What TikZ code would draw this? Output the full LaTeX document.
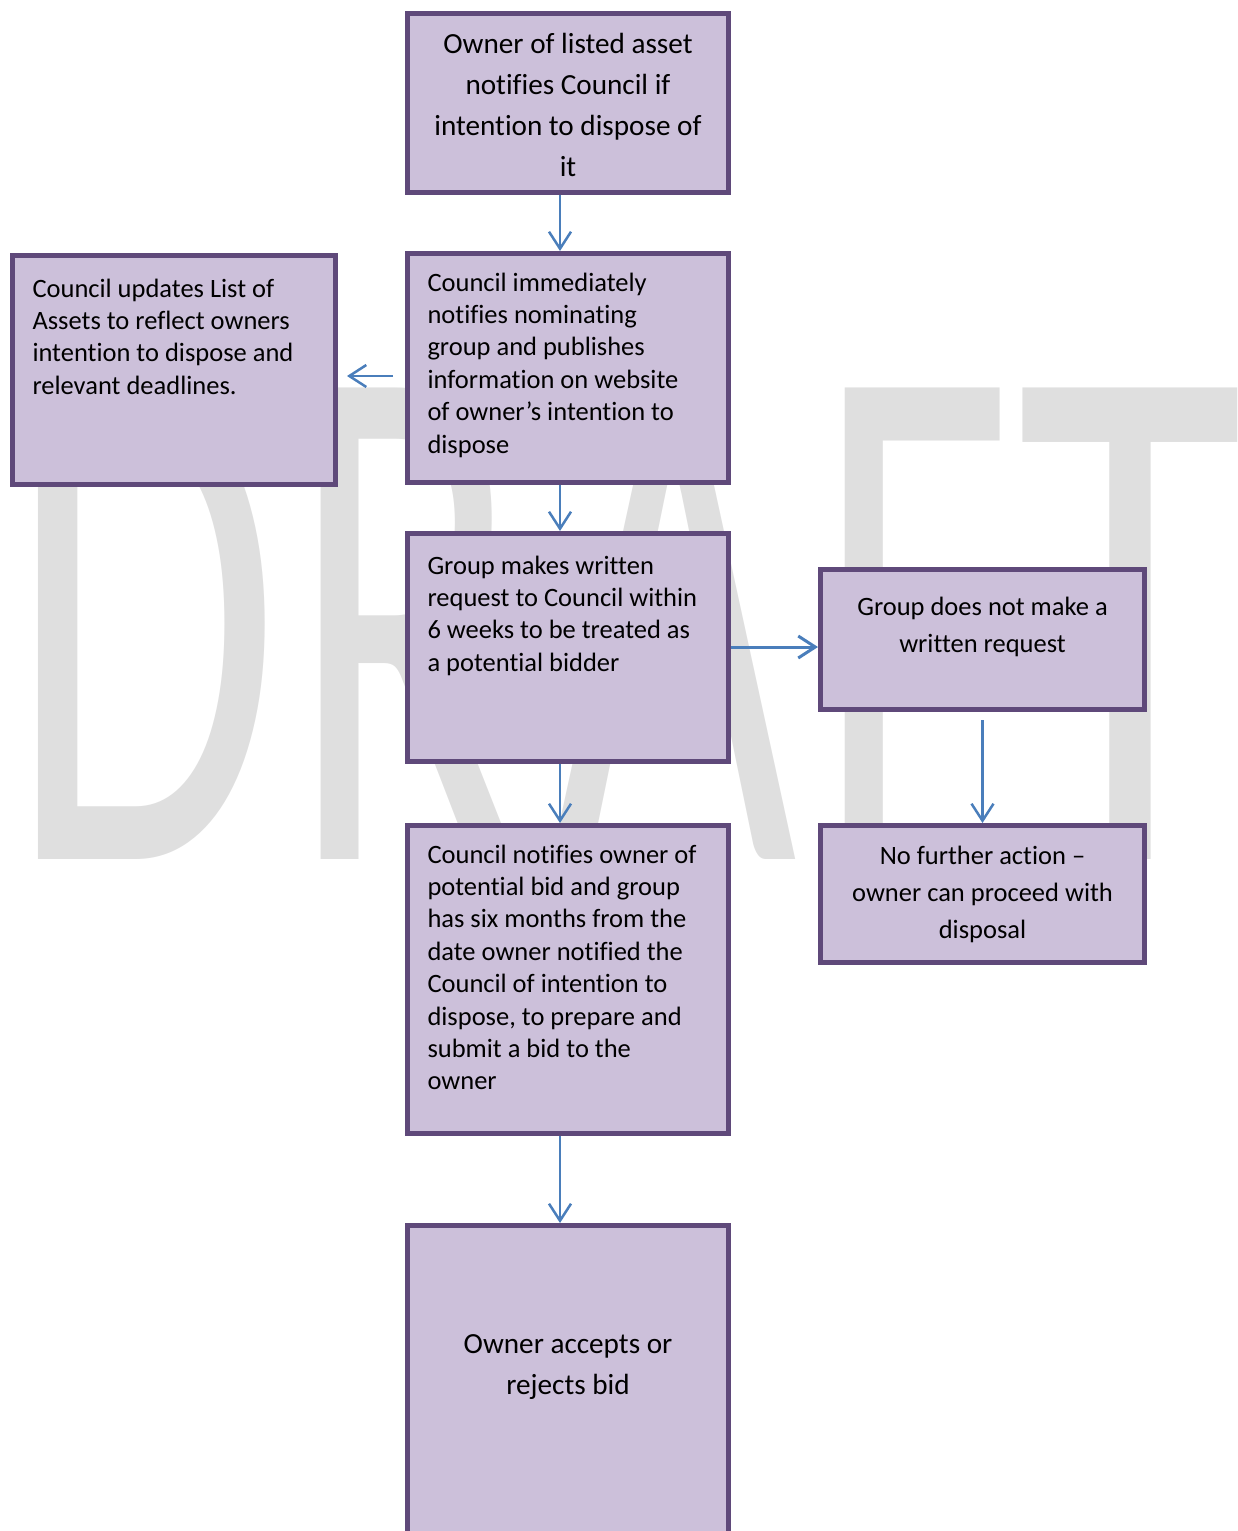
\documentclass[tikz,border=0pt]{standalone}
\usepackage{fontspec}
\setmainfont{Carlito}[Ligatures={TeX,CommonOff}]
\usetikzlibrary{arrows.meta}
\definecolor{boxfill}{HTML}{CCC0DA}
\definecolor{boxline}{HTML}{5F497A}
\definecolor{flowblue}{HTML}{4A7EBB}
\definecolor{wmgray}{HTML}{DFDFDF}

\begin{document}
\begin{tikzpicture}[x=1pt,y=-1pt,
    box/.style={draw=boxline,fill=boxfill,line width=5pt,anchor=north west,
      inner xsep=20pt,inner ysep=0pt,align=left,
      font=\fontsize{26.5}{32.4}\selectfont,
      execute at begin node={\spaceskip=0.226em\relax}},
    mid/.style={align=center,font=\fontsize{26.5}{37.2}\selectfont},
    big/.style={align=center,font=\fontsize{29.2}{41}\selectfont},
    wmark/.style={font=\fontsize{735}{735}\selectfont,text=wmgray,inner sep=0pt},
    flow/.style={draw=flowblue,line width=2.5pt,-{Straight Barb[length=17pt,width=22pt]}}]
    \useasboundingbox (0,0) rectangle (1237,1531);
    % watermark letters
    \foreach \ch/\x/\pos/\sc in {D/8.6/base west/0.6,R/290.6/base west/0.58,A/797/base east/0.58,
        F/816.6/base west/0.58,T/1130.5/base/0.63}
      \node[wmark,xscale=\sc,anchor=\pos] (wm\ch) at (\x,859) {\ch};

    \node[box,big,text width=281pt,text height=39.5pt,text depth=139.5pt]
      (owner) at (405,11) {Owner of listed asset\\notifies Council if\\intention to dispose of\\it};
    \node[box,text width=281pt,text height=37.5pt,text depth=191.5pt]
      (notify) at (405,251) {Council immediately\\notifies nominating\\group and publishes\\information on website\\of owner’s intention to\\dispose};
    \node[box,text width=283pt,text height=41.5pt,text depth=187.5pt]
      (updates) at (10,253) {Council updates List of\\Assets to reflect owners\\intention to dispose and\\relevant deadlines.};
    \node[box,text width=281pt,text height=40.5pt,text depth=187.5pt]
      (request) at (405,531) {Group makes written\\request to Council within\\6 weeks to be treated as\\a potential bidder};
    \node[box,mid,text width=284pt,text height=45.5pt,text depth=94.5pt]
      (norequest) at (818,567) {Group does not make a\\written request};
    \node[box,text width=281pt,text height=37.5pt,text depth=270.5pt]
      (bidnotify) at (405,823) {Council notifies owner of\\potential bid and group\\has six months from the\\date owner notified the\\Council of intention to\\dispose, to prepare and\\submit a bid to the\\owner};
    \node[box,mid,text width=284pt,text height=38.5pt,text depth=98.5pt]
      (noaction) at (818,823) {No further action --\\owner can proceed with\\disposal};
    \node[box,big,text width=281pt,text height=127.5pt,text depth=202.5pt]
      (decision) at (405,1223) {Owner accepts or\\rejects bid};

    \coordinate (spine) at (560,0);
    \coordinate (lvl) at (0,376);
    \coordinate (side) at (0,647);
    \draw[flow] (owner.south -| spine) -- (notify.north -| spine);
    \draw[flow,shorten <=12pt,shorten >=9pt] (notify.west |- lvl) -- (updates.east |- lvl);
    \draw[flow] (notify.south -| spine) -- (request.north -| spine);
    \draw[flow,line width=3pt] (request.east |- side) -- (norequest.west |- side);
    \draw[flow,shorten <=8pt] (norequest.south) -- (noaction.north);
    \draw[flow] (request.south -| spine) -- (bidnotify.north -| spine);
    \draw[flow] (bidnotify.south -| spine) -- (decision.north -| spine);
\end{tikzpicture}
\end{document}
